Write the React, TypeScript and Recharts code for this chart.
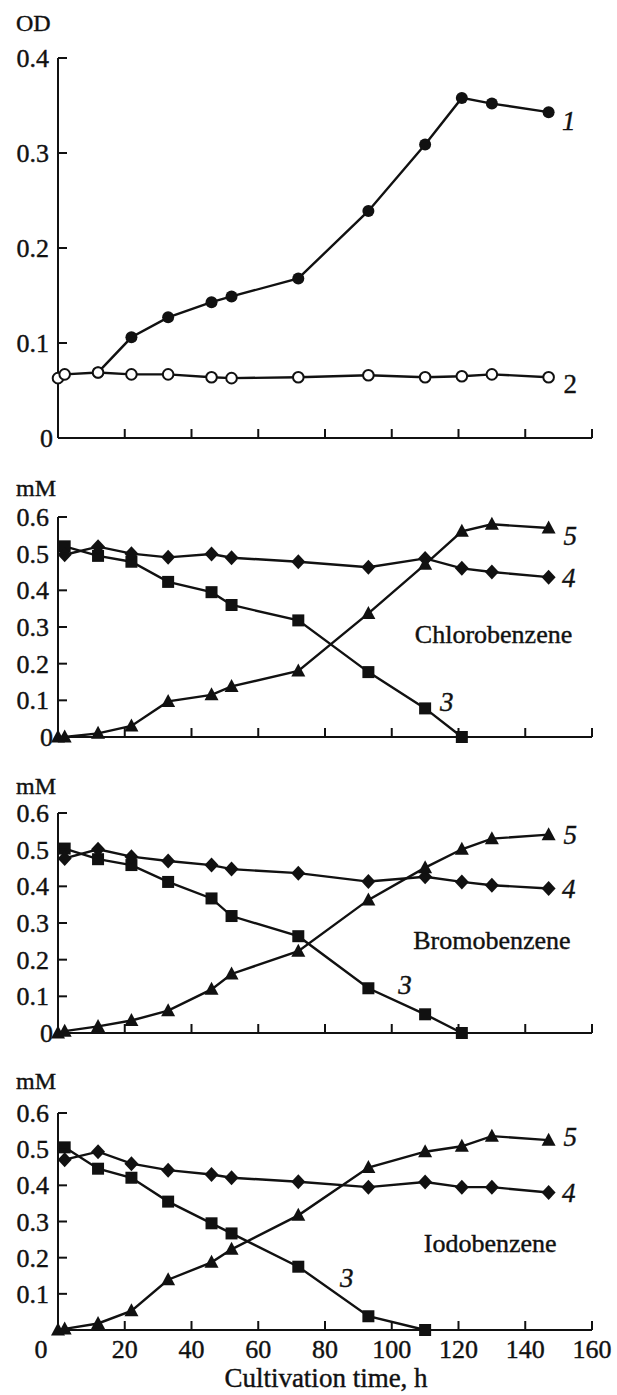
import React from 'react';
import { LineChart, Line, XAxis, YAxis, ReferenceDot } from 'recharts';

const FONT = '"Liberation Serif", "Times New Roman", serif';
const INK = '#111';

// sampling times, h
const hours = [0, 2, 12, 22, 33, 46, 52, 72, 93, 110, 121, 130, 147];
const xTicks = [0, 20, 40, 60, 80, 100, 120, 140, 160];
const odTicks = [0, 0.1, 0.2, 0.3, 0.4];
const mmTicks = [0, 0.1, 0.2, 0.3, 0.4, 0.5, 0.6];

// OD: 1 = with substrate, 2 = control
const od1 = [null, null, 0.069, 0.106, 0.127, 0.143, 0.149, 0.168, 0.239, 0.309, 0.358, 0.352, 0.343];
const od2 = [0.063, 0.067, 0.069, 0.067, 0.067, 0.064, 0.063, 0.064, 0.066, 0.064, 0.065, 0.067, 0.064];

// 3 = substrate, 4 = control, 5 = halide
const chloro3 = [null, 0.52, 0.494, 0.478, 0.423, 0.395, 0.36, 0.318, 0.177, 0.078, 0, null, null];
const chloro4 = [null, 0.497, 0.519, 0.5, 0.49, 0.499, 0.489, 0.478, 0.463, 0.487, 0.46, 0.45, 0.436];
const chloro5 = [0, 0, 0.01, 0.03, 0.097, 0.115, 0.138, 0.18, 0.337, 0.471, 0.561, 0.58, 0.57];

const bromo3 = [null, 0.503, 0.474, 0.458, 0.412, 0.367, 0.319, 0.264, 0.122, 0.051, 0, null, null];
const bromo4 = [null, 0.476, 0.501, 0.481, 0.469, 0.458, 0.447, 0.436, 0.413, 0.426, 0.412, 0.403, 0.394];
const bromo5 = [0, 0.005, 0.018, 0.034, 0.061, 0.119, 0.161, 0.223, 0.363, 0.451, 0.501, 0.53, 0.541];

const iodo3 = [null, 0.505, 0.446, 0.421, 0.355, 0.295, 0.267, 0.175, 0.038, 0, null, null, null];
const iodo4 = [null, 0.471, 0.493, 0.46, 0.442, 0.43, 0.421, 0.41, 0.395, 0.409, 0.395, 0.395, 0.38];
const iodo5 = [0, 0.003, 0.018, 0.053, 0.139, 0.187, 0.223, 0.317, 0.449, 0.493, 0.508, 0.536, 0.525];

const odRows = hours.map((h, i) => ({ h, a: od1[i], b: od2[i] }));
const rows = (s3: (number | null)[], s4: (number | null)[], s5: (number | null)[]) =>
  hours.map((h, i) => ({ h, s3: s3[i], s4: s4[i], s5: s5[i] }));

// markers
const empty = (p: any) => <g key={`e-${p.index}`} />;
const filledCircle = (p: any) =>
  p.cy == null ? empty(p) : <circle key={`fc-${p.index}`} cx={p.cx} cy={p.cy} r={6} fill={INK} />;
const openCircle = (p: any) =>
  p.cy == null ? empty(p) : <circle key={`oc-${p.index}`} cx={p.cx} cy={p.cy} r={5.3} fill="#fff" stroke={INK} strokeWidth={2} />;
const square = (p: any) =>
  p.cy == null ? empty(p) : <rect key={`sq-${p.index}`} x={p.cx - 6} y={p.cy - 6} width={12} height={12} fill={INK} />;
const diamond = (p: any) =>
  p.cy == null ? empty(p) : (
    <path key={`di-${p.index}`} d={`M${p.cx},${p.cy - 7.5} L${p.cx + 7},${p.cy} L${p.cx},${p.cy + 7.5} L${p.cx - 7},${p.cy} Z`} fill={INK} />
  );
const triangle = (p: any) =>
  p.cy == null ? empty(p) : (
    <path key={`tr-${p.index}`} d={`M${p.cx},${p.cy - 7.5} L${p.cx + 7},${p.cy + 5.5} L${p.cx - 7},${p.cy + 5.5} Z`} fill={INK} />
  );

const textInk = { fill: INK, stroke: INK, strokeWidth: 0.4, fontFamily: FONT };

function YTick(props: any) {
  const { x, y, payload, hideZero } = props;
  const v = payload.value;
  return (
    <g>
      {v !== 0 && <line x1={x} x2={x + 9} y1={y} y2={y} stroke={INK} strokeWidth={2} />}
      {!(hideZero && v === 0) && (
        <text x={v === 0 ? x - 5 : x - 9} y={y} dy="0.35em" textAnchor="end" fontSize={26} {...textInk}>
          {String(v)}
        </text>
      )}
    </g>
  );
}

function XTick(props: any) {
  const { x, y, payload, showLabels } = props;
  const v = payload.value;
  return (
    <g>
      {v !== 0 && <line x1={x} x2={x} y1={y} y2={y - 9} stroke={INK} strokeWidth={2} />}
      {showLabels && (
        <text x={v === 0 ? x - 17 : x} y={y + 19} dy="0.35em" textAnchor="middle" fontSize={26} {...textInk}>
          {v}
        </text>
      )}
    </g>
  );
}

function note(text: string, x: number, y: number, italic = true, size = 27) {
  return (
    <ReferenceDot
      key={`${text}-${x}-${y}`}
      x={x}
      y={y}
      r={1}
      fill="none"
      stroke="none"
      ifOverflow="visible"
      label={{
        content: (p: any) => (
          <text
            x={p.viewBox.x + (p.viewBox.width || 0) / 2}
            y={p.viewBox.y + (p.viewBox.height || 0) / 2}
            dy="0.35em"
            textAnchor="middle"
            fontSize={size}
            fontStyle={italic ? 'italic' : 'normal'}
            {...textInk}
          >
            {text}
          </text>
        ),
      }}
    />
  );
}

const W = 617;
const LEFT = 58;
const RIGHT = 25;

function axes(yTicks: number[], yMax: number, xHeight: number, showXLabels: boolean, hideZero: boolean) {
  return [
    <XAxis
      key="x"
      dataKey="h"
      type="number"
      domain={[0, 160]}
      ticks={xTicks}
      interval={0}
      height={xHeight}
      tickSize={0}
      tickMargin={0}
      tickLine={false}
      axisLine={{ stroke: INK, strokeWidth: 2 }}
      tick={(p: any) => <XTick {...p} showLabels={showXLabels} />}
    />,
    <YAxis
      key="y"
      type="number"
      domain={[0, yMax]}
      ticks={yTicks}
      interval={0}
      width={LEFT}
      tickSize={0}
      tickMargin={0}
      tickLine={false}
      axisLine={{ stroke: INK, strokeWidth: 2 }}
      tick={(p: any) => <YTick {...p} hideZero={hideZero} />}
    />,
  ];
}

function SubstratePanel(props: {
  top: number;
  height: number;
  plotTop: number;
  plotBottom: number;
  s3: (number | null)[];
  s4: (number | null)[];
  s5: (number | null)[];
  name: string;
  nameAt: [number, number];
  at3: [number, number];
  at4: number;
  at5: number;
  last?: boolean;
}) {
  const data = rows(props.s3, props.s4, props.s5);
  return (
    <div style={{ position: 'absolute', left: 0, top: props.top }}>
      <LineChart width={W} height={props.height} data={data} margin={{ top: props.plotTop, right: RIGHT, bottom: 0, left: 0 }}>
        {axes(mmTicks, 0.6, props.plotBottom, !!props.last, !!props.last)}
        <Line dataKey="s3" type="linear" stroke={INK} strokeWidth={2.4} dot={square} isAnimationActive={false} />
        <Line dataKey="s4" type="linear" stroke={INK} strokeWidth={2.4} dot={diamond} isAnimationActive={false} />
        <Line dataKey="s5" type="linear" stroke={INK} strokeWidth={2.4} dot={triangle} isAnimationActive={false} />
        {note('5', 153.5, props.at5)}
        {note('4', 153, props.at4)}
        {note('3', props.at3[0], props.at3[1])}
        {note(props.name, props.nameAt[0], props.nameAt[1], false, 26)}
      </LineChart>
    </div>
  );
}

const titleStyle: React.CSSProperties = {
  position: 'absolute',
  fontFamily: FONT,
  fontSize: 24,
  lineHeight: '24px',
  color: INK,
  whiteSpace: 'nowrap',
  WebkitTextStroke: '0.4px #111',
};

export default function App() {
  return (
    <div style={{ position: 'absolute', left: 0, top: 0, width: W, height: 1395, background: '#fff' }}>
      <div style={{ position: 'absolute', left: 0, top: 0 }}>
        <LineChart width={W} height={455} data={odRows} margin={{ top: 58, right: RIGHT, bottom: 0, left: 0 }}>
          {axes(odTicks, 0.4, 17, false, false)}
          <Line dataKey="a" type="linear" stroke={INK} strokeWidth={2.4} dot={filledCircle} isAnimationActive={false} />
          <Line dataKey="b" type="linear" stroke={INK} strokeWidth={2.4} dot={openCircle} isAnimationActive={false} />
          {note('1', 153, 0.334)}
          {note('2', 153.5, 0.057, false)}
        </LineChart>
      </div>

      <SubstratePanel
        top={455}
        height={300}
        plotTop={62}
        plotBottom={18}
        s3={chloro3}
        s4={chloro4}
        s5={chloro5}
        name="Chlorobenzene"
        nameAt={[130.5, 0.28]}
        at3={[116.5, 0.097]}
        at4={0.434}
        at5={0.549}
      />
      <SubstratePanel
        top={755}
        height={295}
        plotTop={58}
        plotBottom={17}
        s3={bromo3}
        s4={bromo4}
        s5={bromo5}
        name="Bromobenzene"
        nameAt={[130, 0.253]}
        at3={[104, 0.133]}
        at4={0.393}
        at5={0.541}
      />
      <SubstratePanel
        top={1050}
        height={345}
        plotTop={63}
        plotBottom={65}
        s3={iodo3}
        s4={iodo4}
        s5={iodo5}
        name="Iodobenzene"
        nameAt={[129.5, 0.242]}
        at3={[86.5, 0.145]}
        at4={0.38}
        at5={0.536}
        last
      />

      <div style={{ ...titleStyle, left: 16, top: 11 }}>OD</div>
      <div style={{ ...titleStyle, left: 16, top: 476 }}>mM</div>
      <div style={{ ...titleStyle, left: 16, top: 774 }}>mM</div>
      <div style={{ ...titleStyle, left: 16, top: 1069 }}>mM</div>
      <div style={{ ...titleStyle, left: 0, width: 652, top: 1366, fontSize: 27, textAlign: 'center' }}>Cultivation time, h</div>
    </div>
  );
}
